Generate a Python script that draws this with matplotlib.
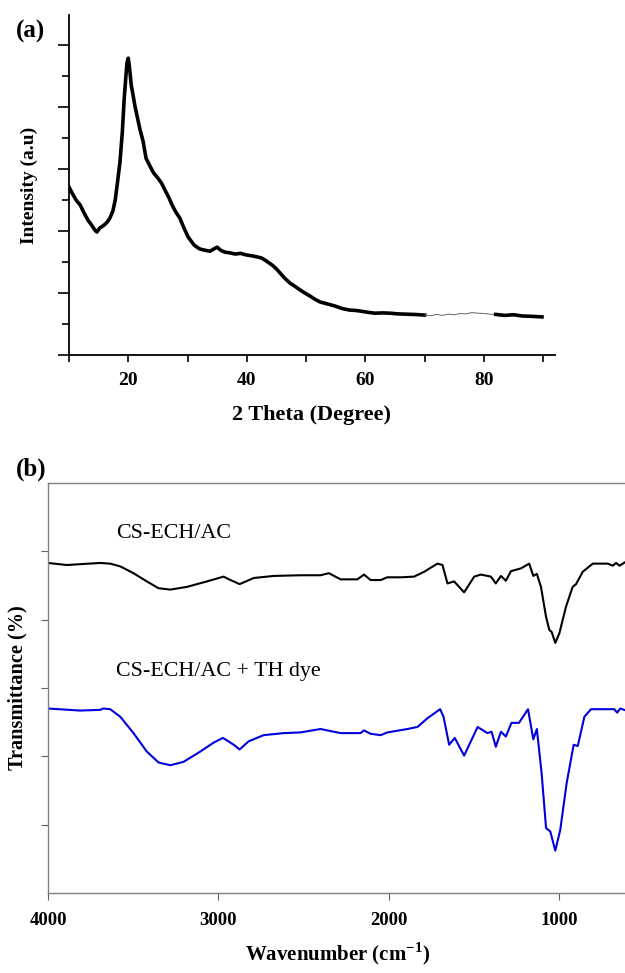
import numpy as np
import matplotlib
matplotlib.use('Agg')
import matplotlib.pyplot as plt
from matplotlib.ticker import MultipleLocator

plt.rcParams['font.family'] = ['Liberation Serif', 'DejaVu Serif']
plt.rcParams['mathtext.fontset'] = 'custom'
plt.rcParams['mathtext.bf'] = 'Liberation Serif:bold'

# ---- (a) XRD data ----
tt = [10.0, 10.6, 11.2, 11.9, 12.5, 13.2, 13.8, 14.3, 14.7, 15.2, 15.9, 16.4, 16.9, 17.4, 17.8,
      18.2, 18.6, 19.0, 19.3, 19.6, 19.8, 20.0, 20.2, 20.5, 20.8, 21.1, 21.5, 22.0, 22.5, 23.0,
      23.6, 24.2, 24.6, 25.0, 25.6, 26.2, 26.8, 27.4, 28.0, 28.7, 29.4, 30.1, 30.6, 31.1, 31.6,
      32.1, 33.0, 33.8, 34.4, 35.0, 35.6, 36.3, 37.1, 38.0, 39.0, 39.9, 40.9, 41.9, 42.5, 43.1,
      43.7, 44.3, 45.0, 45.6, 46.4, 47.3, 48.1, 49.0, 49.8, 50.7, 51.5, 52.4, 53.6, 54.9, 56.1,
      57.4, 58.3, 59.1, 60.4, 61.6, 62.9, 64.2, 65.4, 66.7, 68.3, 70.0]
inten = [542, 520, 500, 484, 460, 435, 420, 405, 397, 410, 419, 428, 442, 465, 500,
         560, 623, 720, 823, 900, 945, 958, 930, 871, 840, 806, 770, 726, 690, 635,
         612, 590, 580, 571, 555, 532, 510, 484, 462, 442, 410, 381, 368, 355, 348,
         342, 338, 335, 342, 348, 338, 332, 330, 326, 328, 323, 320, 316, 313, 306,
         298, 290, 278, 265, 248, 232, 222, 210, 200, 190, 180, 171, 165, 158, 150,
         145, 144, 142, 138, 135, 136, 135, 133, 132, 131, 129]
# thin segment
tt_thin = [70.0, 71.0, 72.0, 73.0, 74.0, 75.0, 76.0, 77.0, 78.0, 79.0, 80.0, 81.0, 82.0]
int_thin = [129, 127, 131, 128, 132, 130, 134, 133, 137, 135, 134, 132, 131]
tt_end = [82.0, 83.5, 85.0, 86.5, 88.0, 89.8]
int_end = [131, 128, 130, 126, 125, 123]

# ---- (b) FTIR data ----
wn1 = [4000, 3890, 3694, 3635, 3576, 3498, 3420, 3351, 3282, 3184, 3067, 2969, 2929, 2875, 2792,
       2675, 2518, 2400, 2351, 2282, 2184, 2145, 2106, 2047, 2008, 1929, 1851, 1792, 1714, 1684,
       1655, 1616, 1557, 1498, 1459, 1400, 1371, 1341, 1312, 1282, 1224, 1175, 1151, 1130, 1106,
       1076, 1057, 1043, 1022, 998, 959, 920, 900, 861, 802, 714, 684, 665, 645, 606]
tr1 = [4.83, 4.80, 4.83, 4.82, 4.78, 4.68, 4.56, 4.46, 4.44, 4.48, 4.56, 4.63, 4.58, 4.52, 4.61,
       4.64, 4.65, 4.65, 4.68, 4.59, 4.59, 4.66, 4.58, 4.58, 4.62, 4.62, 4.63, 4.70, 4.82, 4.80,
       4.53, 4.56, 4.40, 4.63, 4.66, 4.63, 4.53, 4.64, 4.57, 4.71, 4.75, 4.82, 4.64, 4.67, 4.48,
       4.04, 3.85, 3.82, 3.66, 3.80, 4.19, 4.48, 4.52, 4.70, 4.82, 4.82, 4.79, 4.83, 4.79, 4.85]
wn2 = [4000, 3812, 3694, 3675, 3635, 3576, 3498, 3420, 3351, 3282, 3204, 3106, 3028, 2973, 2910,
       2875, 2822, 2734, 2616, 2518, 2400, 2361, 2282, 2165, 2145, 2106, 2047, 2008, 1890, 1831,
       1771, 1698, 1678, 1645, 1612, 1557, 1478, 1420, 1396, 1371, 1341, 1312, 1279, 1235, 1182,
       1151, 1130, 1102, 1076, 1051, 1022, 993, 955, 914, 890, 851, 812, 675, 659, 640, 606]
tr2 = [2.70, 2.67, 2.68, 2.70, 2.69, 2.58, 2.34, 2.07, 1.91, 1.87, 1.92, 2.07, 2.20, 2.27, 2.17,
       2.10, 2.22, 2.31, 2.34, 2.35, 2.40, 2.38, 2.34, 2.34, 2.38, 2.33, 2.31, 2.35, 2.40, 2.43,
       2.56, 2.69, 2.58, 2.17, 2.27, 2.01, 2.43, 2.34, 2.36, 2.14, 2.36, 2.29, 2.49, 2.49, 2.69,
       2.25, 2.40, 1.75, 0.95, 0.90, 0.62, 0.92, 1.61, 2.17, 2.15, 2.58, 2.69, 2.69, 2.64, 2.70, 2.67]

fig = plt.figure(figsize=(6.25, 9.73), dpi=100)

# ---------- panel (a) ----------
ax1 = fig.add_axes([0.1104, 0.6351, 0.7776, 0.3494])
ax1.plot(tt, inten, color='black', lw=2.6)
ax1.plot(tt_thin, int_thin, color='#666666', lw=0.7)
ax1.plot(tt_end, int_end, color='black', lw=2.6)
ax1.set_xlim(10, 92)
ax1.set_ylim(0, 1097)
ax1.spines['top'].set_visible(False)
ax1.spines['right'].set_visible(False)
for s in ['left', 'bottom']:
    ax1.spines[s].set_linewidth(1.3)
ax1.xaxis.set_minor_locator(MultipleLocator(10))
ax1.yaxis.set_major_locator(MultipleLocator(200))
ax1.yaxis.set_minor_locator(MultipleLocator(100))
ax1.set_xticks([20, 40, 60, 80])
ax1.tick_params(axis='y', which='major', length=8, width=1.2, labelleft=False)
ax1.tick_params(axis='y', which='minor', length=5, width=1.2)
ax1.tick_params(axis='x', which='both', length=5, width=1.2, labelsize=14, pad=7)
for t in ax1.get_xticklabels():
    t.set_fontweight('bold')
ax1.set_xlabel('2 Theta (Degree)', fontsize=16, fontweight='bold', labelpad=12)
ax1.set_ylabel('Intensity (a.u)', fontsize=14, fontweight='bold', labelpad=14)
fig.text(0.025, 0.961, '(a)', fontsize=18, fontweight='bold')

# ---------- panel (b) ----------
ax2 = fig.add_axes([0.0768, 0.0822, 0.925, 0.4214])
ax2.plot(wn1, tr1, color='black', lw=1.5)
ax2.plot(wn2, tr2, color='#0000dd', lw=1.5)
ax2.set_xlim(4000, 606)
ax2.set_ylim(0, 6)
for s in ax2.spines.values():
    s.set_color('#808080')
    s.set_linewidth(1.0)
ax2.set_xticks([4000, 3000, 2000, 1000])
ax2.set_yticks([1, 2, 3, 4, 5])
ax2.tick_params(axis='y', length=5, color='#606060', labelleft=False)
ax2.tick_params(axis='x', length=5, color='#606060', labelsize=13.5, pad=9)
for t in ax2.get_xticklabels():
    t.set_fontweight('bold')
ax2.set_xlabel('Wavenumber (cm$^{\\mathbf{-1}}$)', fontsize=15, fontweight='bold', labelpad=8)
ax2.set_ylabel('Transmittance (%)', fontsize=14.6, fontweight='bold', labelpad=10)
ax2.text(3600, 5.2, 'CS-ECH/AC', fontsize=15.8)
ax2.text(3600, 3.17, 'CS-ECH/AC + TH dye', fontsize=15.8)
fig.text(0.025, 0.511, '(b)', fontsize=18, fontweight='bold')

fig.savefig('out.png', dpi=100)
